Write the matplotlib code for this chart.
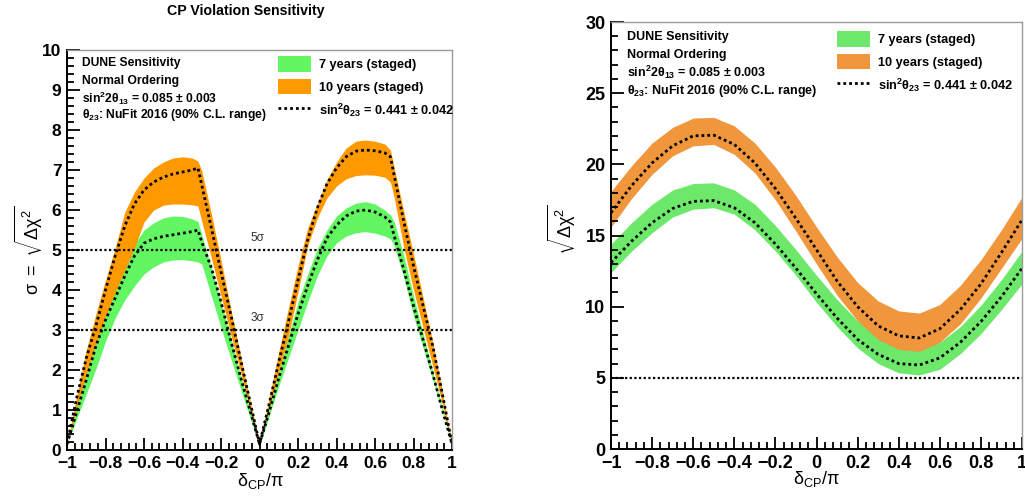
import matplotlib.pyplot as plt
import numpy as np
from matplotlib.patches import Patch
from matplotlib.lines import Line2D
from matplotlib.ticker import MultipleLocator, FuncFormatter

plt.rcParams['font.family'] = ['Liberation Sans', 'DejaVu Sans']
plt.rcParams['font.weight'] = 'bold'
plt.rcParams['mathtext.fontset'] = 'custom'
plt.rcParams['mathtext.rm'] = 'Liberation Sans:bold'
plt.rcParams['mathtext.it'] = 'Liberation Sans:bold'
plt.rcParams['mathtext.bf'] = 'Liberation Sans:bold'
plt.rcParams['mathtext.sf'] = 'Liberation Sans:normal'

# ---- left panel: CP violation sensitivity (sigma) ----
dcp_left = [-1, -0.95, -0.9, -0.85, -0.8, -0.75, -0.7, -0.65, -0.6, -0.55, -0.5,
            -0.45, -0.4, -0.35, -0.32, -0.3, -0.25, -0.2, -0.15, -0.1, -0.05, 0,
            0.05, 0.1, 0.15, 0.2, 0.25, 0.3, 0.35, 0.4, 0.45, 0.5, 0.55, 0.6,
            0.65, 0.68, 0.7, 0.75, 0.8, 0.85, 0.9, 0.95, 1.0]

# 10 years (staged): band upper / central (dotted) / lower
y10_hi = [0.15, 1.35, 2.5, 3.4, 4.25, 5.05, 5.95, 6.45, 6.8, 7.05, 7.2,
          7.3, 7.33, 7.3, 7.22, 6.98, 5.9, 4.75, 3.55, 2.4, 1.25, 0.15,
          1.3, 2.45, 3.55, 4.6, 5.55, 6.15, 6.75, 7.2, 7.55, 7.72, 7.75, 7.72,
          7.65, 7.5, 7.05, 5.95, 4.9, 3.8, 2.7, 1.45, 0.15]
y10_mid = [0.15, 1.3, 2.3, 3.1, 4.0, 4.85, 5.6, 6.15, 6.5, 6.7, 6.82,
           6.9, 6.95, 7.0, 7.05, 6.62, 5.55, 4.45, 3.4, 2.3, 1.22, 0.15,
           1.15, 2.2, 3.2, 4.25, 5.25, 6.05, 6.65, 7.05, 7.33, 7.47, 7.5, 7.48,
           7.43, 7.33, 6.85, 5.7, 4.6, 3.6, 2.6, 1.4, 0.15]
y10_lo = [0.15, 1.05, 1.9, 2.65, 3.35, 3.95, 4.5, 5.05, 5.7, 6.0, 6.12,
          6.15, 6.15, 6.13, 6.1, 5.72, 4.8, 3.85, 2.9, 1.98, 1.05, 0.12,
          1.05, 1.95, 2.85, 3.95, 5.1, 5.8, 6.3, 6.6, 6.78, 6.86, 6.88, 6.87,
          6.82, 6.7, 6.3, 5.05, 4.0, 3.05, 2.1, 1.15, 0.15]

# 7 years (staged)
y7_hi = [0.15, 1.1, 1.95, 2.7, 3.4, 4.0, 4.6, 5.15, 5.5, 5.68, 5.8,
         5.85, 5.84, 5.78, 5.71, 5.38, 4.55, 3.7, 2.82, 1.9, 1.0, 0.12,
         1.05, 1.95, 2.85, 3.7, 4.4, 5.03, 5.5, 5.85, 6.05, 6.17, 6.21, 6.15,
         6.0, 5.88, 5.7, 4.85, 3.85, 2.9, 1.95, 1.05, 0.15]
y7_mid = [0.15, 0.95, 1.75, 2.6, 3.25, 3.8, 4.35, 4.85, 5.17, 5.28, 5.34,
          5.38, 5.42, 5.46, 5.5, 5.2, 4.55, 3.7, 2.75, 1.85, 1.0, 0.15,
          0.95, 1.8, 2.6, 3.4, 4.1, 4.75, 5.3, 5.62, 5.85, 5.97, 6.0, 5.95,
          5.83, 5.7, 5.35, 4.5, 3.6, 2.75, 1.9, 1.0, 0.15]
y7_lo = [0.15, 0.78, 1.4, 2.03, 2.72, 3.3, 3.75, 4.1, 4.4, 4.58, 4.7,
         4.75, 4.76, 4.73, 4.7, 4.65, 3.85, 3.06, 2.3, 1.55, 0.82, 0.1,
         0.85, 1.6, 2.3, 3.0, 3.7, 4.35, 4.85, 5.18, 5.35, 5.43, 5.46, 5.42,
         5.35, 5.28, 5.1, 4.3, 3.35, 2.55, 1.75, 0.95, 0.12]

sigma_levels = [3, 5]
sigma_labels = ["3σ", "5σ"]

# ---- right panel: sqrt(dchi2) ----
dcp_right = [-1, -0.9, -0.8, -0.7, -0.6, -0.5, -0.4, -0.3, -0.2, -0.1, 0,
             0.1, 0.2, 0.3, 0.4, 0.5, 0.6, 0.7, 0.8, 0.9, 1.0]
r10_hi = [18.1, 19.9, 21.5, 22.6, 23.25, 23.3, 22.7, 21.5, 19.8, 17.8, 15.6,
          13.5, 11.7, 10.4, 9.7, 9.55, 10.15, 11.5, 13.3, 15.4, 17.7]
r10_mid = [16.6, 18.5, 20.1, 21.3, 22.0, 22.05, 21.4, 20.1, 18.3, 16.2, 14.0,
           11.8, 10.0, 8.65, 7.95, 7.8, 8.45, 9.8, 11.6, 13.8, 16.1]
r10_lo = [15.6, 17.6, 19.3, 20.6, 21.3, 21.4, 20.7, 19.4, 17.5, 15.3, 13.0,
          10.8, 9.0, 7.7, 7.0, 6.85, 7.5, 8.8, 10.6, 12.7, 14.8]
r7_hi = [14.4, 15.9, 17.2, 18.2, 18.65, 18.7, 18.2, 17.2, 15.7, 14.0, 12.2,
         10.5, 9.0, 7.9, 7.2, 7.0, 7.5, 8.6, 10.1, 11.9, 13.9]
r7_mid = [13.1, 14.6, 15.9, 16.9, 17.4, 17.45, 16.95, 15.9, 14.4, 12.7, 10.9,
          9.2, 7.7, 6.65, 6.0, 5.9, 6.4, 7.5, 8.95, 10.7, 12.7]
r7_lo = [12.4, 13.9, 15.2, 16.3, 16.85, 16.95, 16.5, 15.4, 13.9, 12.2, 10.3,
         8.6, 7.1, 6.0, 5.35, 5.2, 5.6, 6.7, 8.1, 9.8, 11.6]

info_lines = ["DUNE Sensitivity", "Normal Ordering",
              r"sin$^{2}$2$\theta_{13}$ = 0.085 $\pm$ 0.003",
              r"$\theta_{23}$: NuFit 2016 (90% C.L. range)"]
legend_labels = ["7 years (staged)", "10 years (staged)",
                 r"sin$^{2}\theta_{23}$ = 0.441 $\pm$ 0.042"]

DOT = (0, (1, 1.1))


def fmt(v, pos):
    v = round(v, 6)
    if v == 0:
        return "0"
    return ("%g" % v).replace("-", "\u2212")


def style_axes(ax, ymajor, yminor, tsize):
    ax.set_xlim(-1, 1)
    ax.xaxis.set_major_locator(MultipleLocator(0.2))
    ax.xaxis.set_minor_locator(MultipleLocator(0.04))
    ax.yaxis.set_major_locator(MultipleLocator(ymajor))
    ax.yaxis.set_minor_locator(MultipleLocator(yminor))
    ax.xaxis.set_major_formatter(FuncFormatter(fmt))
    ax.yaxis.set_major_formatter(FuncFormatter(fmt))
    ax.tick_params(which="both", direction="in", top=False, right=False,
                   width=1.3, labelsize=tsize)
    ax.tick_params(which="major", length=9, pad=4)
    ax.tick_params(which="minor", length=5)
    for s in ["top", "right"]:
        ax.spines[s].set_color("#9a9a9a")
        ax.spines[s].set_linewidth(1.0)
    for s in ["left", "bottom"]:
        ax.spines[s].set_linewidth(1.4)


def draw_panel(ax, x, hi7, mid7, lo7, hi10, mid10, lo10, green, orange):
    ax.fill_between(x, lo7, hi7, color=green, lw=0)
    ax.fill_between(x, lo10, hi10, color=orange, lw=0)
    ax.plot(x, mid7, color="black", lw=2.0, linestyle=DOT)
    ax.plot(x, mid10, color="black", lw=2.0, linestyle=DOT)


def add_info(ax, ys, size, green, orange, bbox):
    for line, y in zip(info_lines, ys):
        ax.text(0.039, y, line, transform=ax.transAxes, fontsize=size,
                va="center", ha="left")
    handles = [Patch(facecolor=green, edgecolor="none"),
               Patch(facecolor=orange, edgecolor="none"),
               Line2D([], [], color="black", lw=2.0, linestyle=DOT)]
    ax.legend(handles, legend_labels, loc="upper left", bbox_to_anchor=bbox,
              frameon=False, fontsize=9.2, handlelength=2.6, handleheight=1.5,
              labelspacing=0.55, handletextpad=0.6, borderpad=0,
              borderaxespad=0)


fig = plt.figure(figsize=(10.25, 4.99), dpi=100)

# left panel
axL = fig.add_axes([0.0654, 0.0982, 0.3756, 0.8016])
green_l, orange_l = "#62f762", "#ff9900"
draw_panel(axL, dcp_left, y7_hi, y7_mid, y7_lo, y10_hi, y10_mid, y10_lo,
           green_l, orange_l)
for lvl, lab in zip(sigma_levels, sigma_labels):
    axL.axhline(lvl, color="black", lw=1.6, linestyle=DOT)
    axL.text(-0.01, lvl + 0.3, lab, fontsize=8.5, fontweight="normal",
             ha="center", va="center", color="#333333")
axL.set_ylim(0, 10)
style_axes(axL, 1, 0.2, 12.5)
axL.set_xlabel(r"$\mathsf{\delta_{CP}/\pi}$", fontsize=13, fontweight="normal")
axL.set_ylabel(r"$\mathsf{\sigma\ =\ \sqrt{\Delta\chi^{2}}}$", fontsize=13,
               fontweight="normal")
axL.xaxis.set_label_coords(0.501, -0.077)
axL.xaxis.label.set_va("center")
axL.yaxis.set_label_coords(-0.1, 0.5)
axL.yaxis.label.set_va("center")
add_info(axL, [0.9675, 0.9225, 0.88, 0.8375], 8.7, green_l, orange_l,
         (0.548, 0.985))
fig.text(0.24, 0.978, "CP Violation Sensitivity", fontsize=10.2, ha="center",
         va="center")

# right panel
axR = fig.add_axes([0.5961, 0.1002, 0.4010, 0.8557])
green_r, orange_r = "#6ee86a", "#f0963c"
draw_panel(axR, dcp_right, r7_hi, r7_mid, r7_lo, r10_hi, r10_mid, r10_lo,
           green_r, orange_r)
axR.axhline(5, color="black", lw=1.6, linestyle=DOT)
axR.set_ylim(0, 30)
style_axes(axR, 5, 1, 13)
axR.set_xlabel(r"$\mathsf{\delta_{CP}/\pi}$", fontsize=13, fontweight="normal")
axR.set_ylabel(r"$\mathsf{\sqrt{\Delta\chi^{2}}}$", fontsize=13,
               fontweight="normal")
axR.xaxis.set_label_coords(0.499, -0.071)
axR.xaxis.label.set_va("center")
axR.yaxis.set_label_coords(-0.119, 0.513)
axR.yaxis.label.set_va("center")
add_info(axR, [0.965, 0.923, 0.881, 0.838], 9.0, green_r, orange_r,
         (0.55, 0.979))

fig.savefig("out.png", dpi=100)
